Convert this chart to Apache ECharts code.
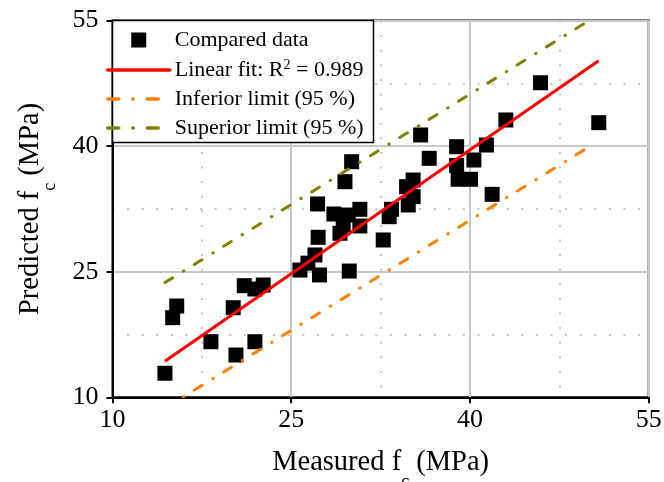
<!DOCTYPE html>
<html>
<head>
<meta charset="utf-8">
<title>Predicted vs measured fc</title>
<script src="https://cdn.jsdelivr.net/npm/echarts@6/dist/echarts.min.js"></script>
<style>
  html, body { margin: 0; padding: 0; background: #fff; }
  #chart { width: 664px; height: 482px; }
</style>
</head>
<body>
<div id="chart"></div>
<script>
// Measured vs predicted compressive strength (MPa)
const measured = [
  14.40, 15.05, 15.39, 18.26, 20.36, 20.13, 21.06, 21.95, 21.95, 22.65,
  25.73, 26.40, 26.99, 27.37, 27.26, 27.21, 28.58, 29.78, 29.36, 29.09,
  29.51, 30.07, 29.87, 30.76, 30.76, 32.72, 33.42, 33.22, 34.82, 35.23,
  34.68, 35.23, 35.86, 36.58, 38.88, 38.88, 39.01, 40.05, 40.33, 41.38,
  41.86, 43.01, 45.92, 50.81
];
const predicted = [
  12.87, 19.51, 20.90, 16.64, 15.05, 20.70, 23.33, 16.64, 22.93, 23.41,
  25.20, 26.02, 27.00, 24.61, 29.11, 33.09, 31.89, 31.77, 30.58, 29.59,
  35.75, 38.14, 25.08, 32.45, 30.46, 28.79, 32.45, 31.57, 32.97, 33.96,
  35.15, 35.95, 41.33, 38.54, 39.93, 37.68, 36.04, 36.04, 38.34, 40.13,
  34.24, 43.12, 47.57, 42.80
];

// Fit line and 95 % limits, as end points [x, y]
const fitLine = [[14.4, 14.3], [50.8, 50.2]];
const inferiorLine = [[14.4, 8.7], [50.1, 40.0]];
const superiorLine = [[14.4, 23.7], [50.8, 55.7]];
const rSquared = '0.989';

// Axis range and ticks
const axisMin = 10, axisMax = 55, axisStep = 15;

const seriesNames = ['Compared data', 'Linear fit', 'Inferior limit (95 %)', 'Superior limit (95 %)'];

const FONT = 'Liberation Serif';
const dashDot = [9, 12.75, 0.5, 12.25];
const legendDashDot = [11, 14, 0.5, 14];

const points = measured.map((m, i) => [m, predicted[i]]);

const chart = echarts.init(document.getElementById('chart'), null, { renderer: 'canvas' });

function axisCommon(nameText, isX) {
  return {
    type: 'value',
    min: axisMin,
    max: axisMax,
    interval: axisStep,
    name: nameText,
    nameLocation: 'middle',
    nameGap: isX ? 51 : 67,
    nameTextStyle: {
      fontFamily: FONT,
      fontSize: 28.5,
      color: '#000',
      rich: {
        sub: { fontFamily: FONT, fontSize: 18, color: '#000', verticalAlign: 'bottom', lineHeight: 18, padding: [0, 0, -14, 0] }
      }
    },
    axisLine: { show: true, onZero: false, lineStyle: { color: '#000', width: 2 } },
    axisTick: { show: true, inside: false, length: 6, lineStyle: { color: '#000', width: 2 } },
    axisLabel: { fontFamily: FONT, fontSize: 26, color: '#000', margin: isX ? 10 : 14 },
    splitLine: { show: true, lineStyle: { color: '#c8c8c8', width: 2 } },
    minorTick: { show: false, splitNumber: 2 },
    minorSplitLine: { show: true, lineStyle: { color: '#c4c4c4', width: 2, type: [2, 12.6] } }
  };
}

const xAxis = axisCommon('Measured f{sub|c} (MPa)', true);
const yAxis = axisCommon('Predicted f{sub|c} (MPa)', false);

// Line entries in the legend show only their stroke
const hiddenMarker = { opacity: 0 };

chart.setOption({
  animation: false,
  backgroundColor: '#fff',
  grid: {
    left: 112.5, right: 15.3, top: 20.5, bottom: 84.7,
    outerBoundsMode: 'none',
    containLabel: false,
    show: true, borderColor: '#000', borderWidth: 2, backgroundColor: 'transparent'
  },
  xAxis: xAxis,
  yAxis: yAxis,
  graphic: [{
    type: 'rect',
    z: 50,
    shape: { x: 112.5, y: 20.5, width: 261, height: 122 },
    style: { fill: '#fff', stroke: '#000', lineWidth: 1.5 }
  }],
  legend: {
    orient: 'vertical',
    left: 101,
    top: 24,
    itemWidth: 62,
    itemHeight: 15,
    itemGap: 7,
    z: 60,
    selectedMode: false,
    symbolKeepAspect: true,
    lineStyle: { width: 3.5, cap: 'round' },
    textStyle: {
      fontFamily: FONT,
      fontSize: 22,
      color: '#000',
      rich: {
        sup: { fontFamily: FONT, fontSize: 14, color: '#000', verticalAlign: 'top', padding: [0, 0, 10, 0] }
      }
    },
    formatter: function (name) {
      if (name === seriesNames[1]) return 'Linear fit: R{sup|2} = ' + rSquared;
      return name;
    },
    data: [
      { name: seriesNames[0], icon: 'path://M0 0H10V10H0Z', itemStyle: { color: '#000', opacity: 1 } },
      { name: seriesNames[1], itemStyle: hiddenMarker, lineStyle: { color: '#ff0000', width: 3.5, type: 'solid' } },
      { name: seriesNames[2], itemStyle: hiddenMarker, lineStyle: { color: '#ff8000', width: 3.5, type: legendDashDot, cap: 'round' } },
      { name: seriesNames[3], itemStyle: hiddenMarker, lineStyle: { color: '#808000', width: 3.5, type: legendDashDot, cap: 'round' } }
    ]
  },
  series: [
    {
      name: seriesNames[0],
      type: 'scatter',
      symbol: 'rect',
      symbolSize: 15,
      itemStyle: { color: '#000', opacity: 1 },
      data: points,
      z: 5
    },
    {
      name: seriesNames[1],
      type: 'line',
      symbol: 'none',
      clip: true,
      lineStyle: { color: '#ff0000', width: 3 },
      itemStyle: { color: '#ff0000' },
      data: fitLine,
      z: 6
    },
    {
      name: seriesNames[2],
      type: 'line',
      symbol: 'none',
      clip: true,
      lineStyle: { color: '#ff8000', width: 3, type: dashDot, cap: 'round' },
      itemStyle: { color: '#ff8000' },
      data: inferiorLine,
      z: 6
    },
    {
      name: seriesNames[3],
      type: 'line',
      symbol: 'none',
      clip: true,
      lineStyle: { color: '#808000', width: 3, type: dashDot, cap: 'round' },
      itemStyle: { color: '#808000' },
      data: superiorLine,
      z: 6
    }
  ]
});
</script>
</body>
</html>
